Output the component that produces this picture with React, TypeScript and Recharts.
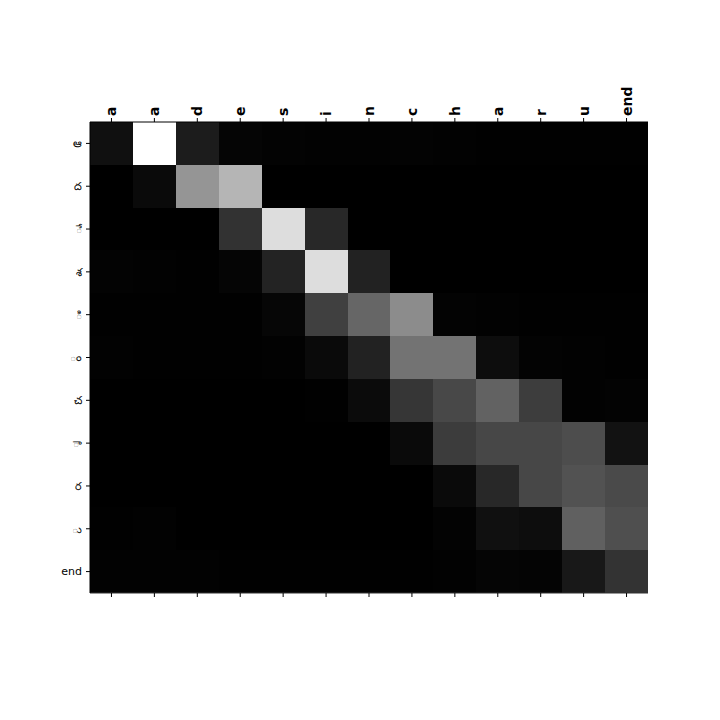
import React from "react";
import { ComposedChart, Bar, Line, XAxis, YAxis, Cell } from "recharts";

const colLabels = ["a", "a", "d", "e", "s", "i", "n", "c", "h", "a", "r", "u", "end"];
const rowLabels = ["ఆ", "ద", "ే", "శ", "ి", "ం", "చ", "ా", "ర", "ు", "end"];

// attention weights (0..1), one row per output character
const attn: number[][] = [
  [0.063, 1.0, 0.11, 0.02, 0.012, 0.008, 0.008, 0.012, 0.008, 0.004, 0.004, 0.004, 0.004],
  [0.0, 0.04, 0.584, 0.71, 0.0, 0.0, 0.0, 0.0, 0.0, 0.0, 0.0, 0.0, 0.0],
  [0.0, 0.0, 0.0, 0.196, 0.867, 0.157, 0.0, 0.0, 0.0, 0.0, 0.0, 0.0, 0.0],
  [0.012, 0.008, 0.004, 0.02, 0.137, 0.867, 0.133, 0.0, 0.0, 0.0, 0.0, 0.0, 0.0],
  [0.004, 0.004, 0.004, 0.004, 0.024, 0.251, 0.4, 0.549, 0.012, 0.008, 0.004, 0.004, 0.004],
  [0.008, 0.004, 0.004, 0.004, 0.008, 0.039, 0.133, 0.451, 0.451, 0.051, 0.012, 0.008, 0.004],
  [0.0, 0.0, 0.0, 0.0, 0.0, 0.004, 0.043, 0.212, 0.282, 0.384, 0.239, 0.008, 0.012],
  [0.0, 0.0, 0.0, 0.0, 0.0, 0.0, 0.0, 0.039, 0.235, 0.278, 0.278, 0.302, 0.071],
  [0.0, 0.0, 0.0, 0.0, 0.0, 0.0, 0.0, 0.0, 0.039, 0.157, 0.278, 0.322, 0.29],
  [0.004, 0.008, 0.0, 0.0, 0.0, 0.0, 0.0, 0.0, 0.012, 0.063, 0.051, 0.376, 0.31],
  [0.008, 0.008, 0.008, 0.004, 0.004, 0.004, 0.004, 0.004, 0.008, 0.02, 0.016, 0.094, 0.2],
];

const data = colLabels.map((_, j) => {
  const d: Record<string, number> = { col: j };
  rowLabels.forEach((_, i) => {
    d[`r${i}`] = 1;
  });
  return d;
});

const gray = (v: number) => {
  const g = Math.round(Math.max(0, Math.min(1, v)) * 255);
  return `rgb(${g},${g},${g})`;
};

const TopTick = (props: any) => {
  const { x, y, payload } = props;
  return (
    <text
      x={x}
      y={y}
      transform={`rotate(-90, ${x}, ${y})`}
      textAnchor="start"
      dominantBaseline="central"
      fontFamily="DejaVu Sans"
      fontWeight="bold"
      fontSize={14}
      fill="#000"
    >
      {colLabels[payload.value]}
    </text>
  );
};

const EmptyTick = () => <g />;

export default function App() {
  return (
    <div style={{ position: "absolute", left: 0, top: 0, width: 720, height: 720, background: "#fff" }}>
      <ComposedChart
        width={720}
        height={720}
        data={data}
        margin={{ top: 92, right: 72, bottom: 117, left: 50 }}
        barCategoryGap={0}
        barGap={0}
      >
        <XAxis
          xAxisId="top"
          dataKey="col"
          orientation="top"
          interval={0}
          height={30}
          tickSize={4}
          tickMargin={2}
          tickLine={{ stroke: "#000", strokeWidth: 1 }}
          axisLine={{ stroke: "#000" }}
          tick={<TopTick />}
        />
        <XAxis
          xAxisId="bottom"
          dataKey="col"
          orientation="bottom"
          interval={0}
          height={10}
          tickSize={4}
          tickLine={{ stroke: "#000", strokeWidth: 1 }}
          axisLine={{ stroke: "#333" }}
          tick={<EmptyTick />}
        />
        <YAxis
          type="number"
          domain={[0, rowLabels.length]}
          reversed
          allowDataOverflow
          ticks={rowLabels.map((_, i) => i + 0.5)}
          interval={0}
          width={40}
          tickSize={4}
          tickMargin={4}
          tickLine={{ stroke: "#000", strokeWidth: 1 }}
          axisLine={{ stroke: "#000" }}
          tick={{ fill: "#000", fontSize: 11, fontFamily: "DejaVu Sans, Noto Sans" }}
          tickFormatter={(v: number) => rowLabels[Math.floor(v)]}
        />
        {rowLabels.map((_, i) => (
          <Bar
            key={i}
            xAxisId="top"
            dataKey={`r${i}`}
            stackId="a"
            isAnimationActive={false}
          >
            {colLabels.map((_, j) => (
              <Cell key={j} fill={gray(attn[i][j])} stroke="none" shapeRendering="crispEdges" />
            ))}
          </Bar>
        ))}
        <Line
          xAxisId="bottom"
          dataKey="r0"
          stroke="none"
          dot={false}
          activeDot={false}
          isAnimationActive={false}
        />
      </ComposedChart>
    </div>
  );
}
